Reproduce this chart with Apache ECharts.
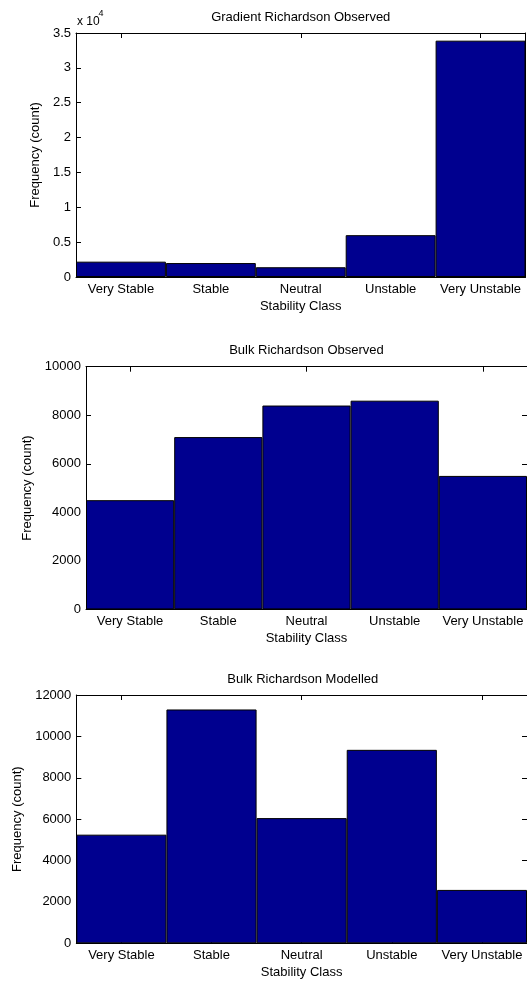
<!DOCTYPE html>
<html>
<head>
<meta charset="utf-8">
<script src="https://cdn.jsdelivr.net/npm/echarts@6/dist/echarts.min.js"></script>
<style>
  html, body { margin: 0; padding: 0; background: #fff; }
  #chart { width: 527px; height: 981px; }
</style>
</head>
<body>
<div id="chart"></div>
<script>
// Stability class histograms: gradient vs bulk Richardson number
const categories = ['Very Stable', 'Stable', 'Neutral', 'Unstable', 'Very Unstable'];

const gradientObserved = [2200, 2000, 1400, 6000, 33900];
const bulkObserved = [4500, 7100, 8400, 8600, 5500];
const bulkModelled = [5250, 11300, 6050, 9350, 2580];

const titles = ['Gradient Richardson Observed', 'Bulk Richardson Observed', 'Bulk Richardson Modelled'];
const yMax = [35000, 10000, 12000];
const yStep = [5000, 2000, 2000];
const yLabelScale = [10000, 1, 1];

const FONT = "'Liberation Sans', Arial, Helvetica, sans-serif";
const BAR_COLOR = '#00008F';

const panels = [
  { left: 76, top: 33, width: 449.5, height: 244, yNameGap: 32.5 },
  { left: 86, top: 366.7, width: 441, height: 242.7, yNameGap: 45.5 },
  { left: 76.3, top: 695, width: 453, height: 248.3, yNameGap: 49 }
];
const seriesData = [gradientObserved, bulkObserved, bulkModelled];

const axisLine = { show: true, onZero: false, lineStyle: { color: '#000', width: 1 } };
const textBase = { color: '#000', fontFamily: FONT, fontSize: 13 };

const grid = [], xAxis = [], yAxis = [], series = [], graphic = [];

panels.forEach((p, i) => {
  grid.push({ left: p.left, top: p.top, width: p.width, height: p.height, containLabel: false });

  // bottom axis with labels, top axis as the box edge
  xAxis.push({
    type: 'category', gridIndex: i, data: categories, position: 'bottom', boundaryGap: true,
    axisLine: axisLine,
    axisTick: { show: true, inside: true, alignWithLabel: true, length: 5, lineStyle: { color: '#000' } },
    axisLabel: Object.assign({ margin: 6, interval: 0 }, textBase),
    splitLine: { show: false },
    name: 'Stability Class', nameLocation: 'middle', nameGap: 23,
    nameTextStyle: textBase
  });
  xAxis.push({
    type: 'category', gridIndex: i, data: categories, position: 'top', boundaryGap: true,
    axisLine: axisLine,
    axisTick: { show: true, inside: true, alignWithLabel: true, length: 5, lineStyle: { color: '#000' } },
    axisLabel: { show: false },
    splitLine: { show: false }
  });

  const scale = yLabelScale[i];
  yAxis.push({
    type: 'value', gridIndex: i, position: 'left', min: 0, max: yMax[i], interval: yStep[i],
    axisLine: axisLine,
    axisTick: { show: true, inside: true, length: 5, lineStyle: { color: '#000' } },
    axisLabel: Object.assign({ margin: 5, formatter: v => String(v / scale) }, textBase),
    splitLine: { show: false },
    name: 'Frequency (count)', nameLocation: 'middle', nameGap: p.yNameGap,
    nameTextStyle: textBase
  });
  yAxis.push({
    type: 'value', gridIndex: i, position: 'right', min: 0, max: yMax[i], interval: yStep[i],
    axisLine: axisLine,
    axisTick: { show: true, inside: true, length: 5, lineStyle: { color: '#000' } },
    axisLabel: { show: false },
    splitLine: { show: false }
  });

  series.push({
    type: 'bar', xAxisIndex: 2 * i, yAxisIndex: 2 * i,
    data: seriesData[i],
    barCategoryGap: '0%',
    itemStyle: { color: BAR_COLOR, borderColor: '#000', borderWidth: 1 },
    silent: true
  });

  graphic.push({
    type: 'text', x: p.left + p.width / 2, y: p.top - 16,
    style: Object.assign({ text: titles[i], textAlign: 'center', textVerticalAlign: 'middle' }, textBase)
  });
});

// exponent marker for the first panel's y axis
graphic.push({
  type: 'text', x: 77, y: 22,
  style: Object.assign({ text: 'x 10', textAlign: 'left', textVerticalAlign: 'middle' }, textBase, { fontSize: 12 })
});
graphic.push({
  type: 'text', x: 98.5, y: 14,
  style: Object.assign({ text: '4', textAlign: 'left', textVerticalAlign: 'middle' }, textBase, { fontSize: 9 })
});

const chart = echarts.init(document.getElementById('chart'), null, { renderer: 'canvas' });
chart.setOption({
  backgroundColor: '#fff',
  animation: false,
  grid, xAxis, yAxis, series, graphic
});
</script>
</body>
</html>
